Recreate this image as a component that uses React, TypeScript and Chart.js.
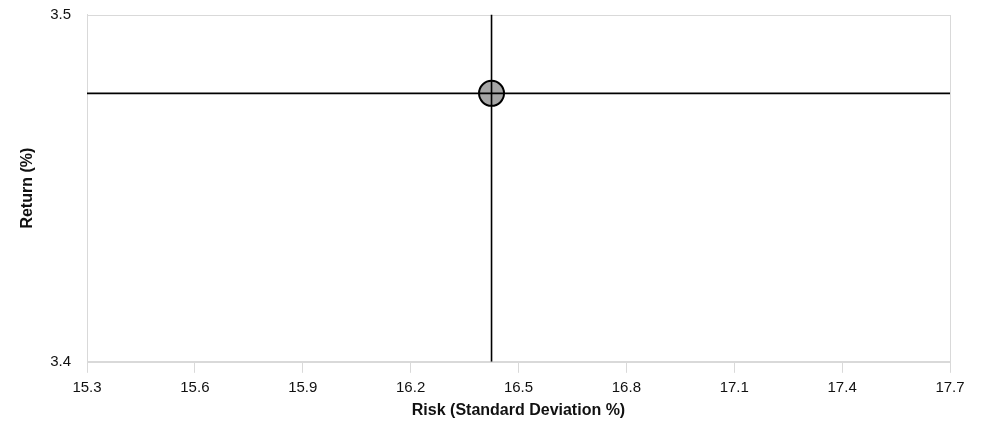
import React, { useEffect, useRef } from "react";
import { Chart, registerables } from "chart.js";

Chart.register(...registerables);

const pointRisk = [16.425];
const pointReturn = [3.4773];
const xRange = [15.3, 17.7];
const yRange = [3.4, 3.5];
const xTickStep = 0.3;
const yTickStep = 0.1;
const xTitle = "Risk (Standard Deviation %)";
const yTitle = "Return (%)";

const FONT = "'Liberation Sans', Arial, sans-serif";

const boxPlugin = {
  id: "plotBox",
  beforeDatasetsDraw(chart: any) {
    const { ctx, chartArea } = chart;
    ctx.save();
    ctx.strokeStyle = "#d9d9d9";
    ctx.lineWidth = 1;
    ctx.strokeRect(
      Math.round(chartArea.left) + 0.5,
      Math.round(chartArea.top) + 0.5,
      Math.round(chartArea.right - chartArea.left),
      Math.round(chartArea.bottom - chartArea.top)
    );
    ctx.restore();
  },
};

export default function App() {
  const ref = useRef<HTMLCanvasElement | null>(null);
  useEffect(() => {
    document.body.style.margin = "0";
    const canvas = ref.current;
    if (!canvas) return;
    const px = pointRisk[0];
    const py = pointReturn[0];
    const chart = new Chart(canvas, {
      type: "scatter",
      data: {
        datasets: [
          {
            data: [
              { x: px, y: yRange[0] },
              { x: px, y: yRange[1] },
            ],
            showLine: true,
            borderColor: "#000",
            borderWidth: 1.6,
            pointRadius: 0,
          },
          {
            data: [
              { x: xRange[0], y: py },
              { x: xRange[1], y: py },
            ],
            showLine: true,
            borderColor: "#000",
            borderWidth: 1.6,
            pointRadius: 0,
          },
          {
            data: pointRisk.map((r, i) => ({ x: r, y: pointReturn[i] })),
            pointRadius: 12.5,
            pointBorderWidth: 2,
            pointBackgroundColor: "#a6a6a6",
            pointBorderColor: "#000",
          },
        ],
      },
      options: {
        responsive: false,
        animation: false,
        events: [],
        layout: { padding: { left: 14, right: 37, top: 13, bottom: 0 } },
        plugins: { legend: { display: false }, tooltip: { enabled: false } },
        scales: {
          x: {
            type: "linear",
            min: xRange[0],
            max: xRange[1],
            border: { color: "#d9d9d9" },
            grid: {
              drawOnChartArea: false,
              drawTicks: true,
              tickLength: 11,
              color: "#d9d9d9",
            },
            ticks: {
              stepSize: xTickStep,
              padding: 6,
              color: "#111",
              font: { family: FONT, size: 15 },
              maxRotation: 0,
              callback: (v: any) => Number(v).toFixed(1),
            },
            title: {
              display: true,
              text: xTitle,
              color: "#111",
              font: { family: FONT, size: 16, weight: "bold" },
              padding: { top: -1.5, bottom: 1.5 },
            },
          },
          y: {
            type: "linear",
            min: yRange[0],
            max: yRange[1],
            border: { color: "#d9d9d9" },
            grid: { display: false, drawTicks: false },
            ticks: {
              stepSize: yTickStep,
              padding: 16,
              color: "#111",
              font: { family: FONT, size: 15 },
              callback: (v: any) => Number(v).toFixed(1),
            },
            title: {
              display: true,
              text: yTitle,
              color: "#111",
              font: { family: FONT, size: 16, weight: "bold" },
              padding: { top: 4, bottom: 4 },
            },
            afterFit: (scale: any) => {
              scale.width = 73;
              scale.paddingTop = 0;
              scale.paddingBottom = 0;
            },
          },
        },
      },
      plugins: [boxPlugin],
    });
    return () => chart.destroy();
  }, []);
  return (
    <div style={{ width: 987, height: 422 }}>
      <canvas ref={ref} width={987} height={422} style={{ width: 987, height: 422, display: "block" }} />
    </div>
  );
}
